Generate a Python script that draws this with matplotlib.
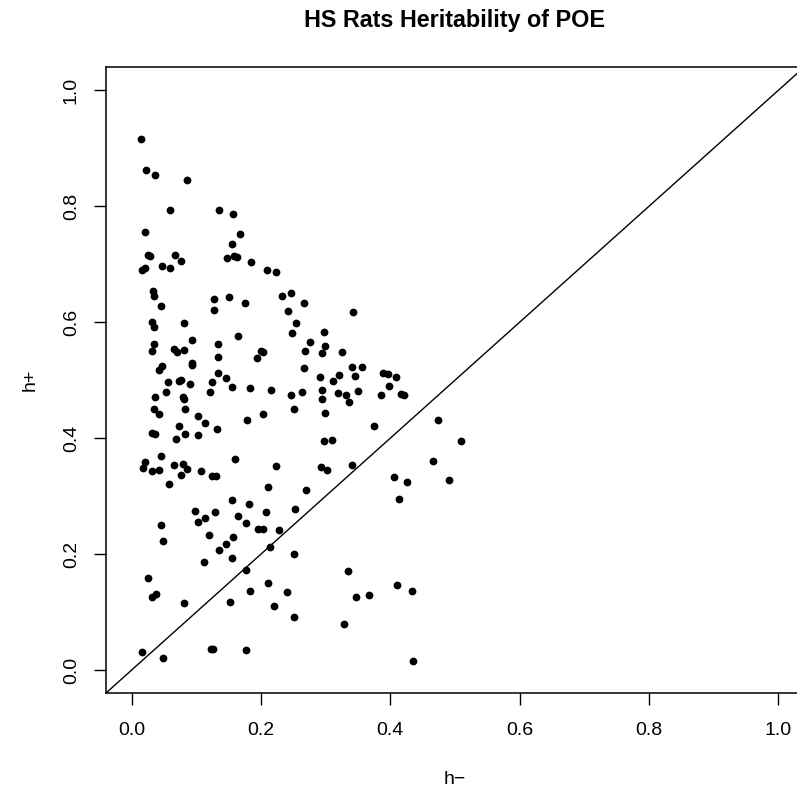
import matplotlib
matplotlib.use("Agg")
import matplotlib.pyplot as plt

plt.rcParams['font.family'] = ['Liberation Sans', 'DejaVu Sans']

# heritability estimates
h_minus = [0.015, 0.023, 0.036, 0.0855, 0.060, 0.1355, 0.157, 0.021, 0.168, 0.156,
           0.026, 0.029, 0.067, 0.077, 0.147, 0.158, 0.163, 0.184, 0.0155, 0.0206,
           0.047, 0.059, 0.209, 0.224, 0.033, 0.035, 0.045, 0.128, 0.150, 0.176,
           0.233, 0.246, 0.127, 0.242, 0.032, 0.034, 0.081, 0.255, 0.165, 0.2475,
           0.035, 0.031, 0.066, 0.071, 0.0814, 0.0933, 0.134, 0.133, 0.200, 0.2036,
           0.1938, 0.0928, 0.0933, 0.047, 0.042, 0.134, 0.146, 0.057, 0.073, 0.076,
           0.090, 0.125, 0.1547, 0.1825, 0.215, 0.0526, 0.122, 0.247, 0.037, 0.080,
           0.0804, 0.034, 0.042, 0.082, 0.102, 0.114, 0.179, 0.2026, 0.2515, 0.074,
           0.032, 0.036, 0.083, 0.069, 0.1026, 0.1324, 0.0453, 0.0206, 0.0175, 0.032,
           0.042, 0.065, 0.0794, 0.086, 0.076, 0.108, 0.125, 0.1304, 0.160, 0.2237,
           0.0572, 0.2104, 0.1547, 0.181, 0.0974, 0.129, 0.2073, 0.2526, 0.102, 0.113,
           0.1644, 0.1768, 0.1958, 0.203, 0.2278, 0.0449, 0.0489, 0.119, 0.157, 0.1454,
           0.135, 0.2144, 0.2515, 0.1118, 0.1556, 0.1773, 0.0247, 0.2104, 0.2397, 0.0319,
           0.0376, 0.183, 0.0809, 0.152, 0.220, 0.2515, 0.0155, 0.0489, 0.123, 0.126,
           0.1773, 0.267, 0.3428, 0.2975, 0.2763, 0.2685, 0.2985, 0.2944, 0.3248, 0.266,
           0.3412, 0.3567, 0.2917, 0.3211, 0.3114, 0.3459, 0.3887, 0.3969, 0.4093, 0.3985,
           0.2634, 0.2948, 0.3186, 0.3315, 0.3496, 0.3856, 0.4161, 0.4212, 0.2948, 0.3366,
           0.2985, 0.3748, 0.4738, 0.2975, 0.3094, 0.5098, 0.4656, 0.2923, 0.3026, 0.3412,
           0.4057, 0.4258, 0.4903, 0.414, 0.270, 0.335, 0.347, 0.3675, 0.4108, 0.4331,
           0.328, 0.436]
h_plus = [0.9155, 0.862, 0.854, 0.846, 0.793, 0.794, 0.787, 0.755, 0.752, 0.7345,
          0.7155, 0.714, 0.716, 0.706, 0.7115, 0.715, 0.7126, 0.7046, 0.690, 0.694,
          0.697, 0.694, 0.691, 0.686, 0.654, 0.645, 0.629, 0.641, 0.643, 0.634,
          0.646, 0.651, 0.622, 0.6195, 0.600, 0.592, 0.598, 0.5995, 0.576, 0.582,
          0.563, 0.551, 0.554, 0.5495, 0.553, 0.5695, 0.5626, 0.541, 0.5505, 0.5495,
          0.539, 0.529, 0.526, 0.5247, 0.518, 0.512, 0.5034, 0.497, 0.498, 0.500,
          0.493, 0.4966, 0.488, 0.4867, 0.483, 0.4805, 0.479, 0.474, 0.472, 0.4707,
          0.467, 0.450, 0.4414, 0.450, 0.438, 0.427, 0.431, 0.442, 0.4506, 0.4213,
          0.409, 0.4075, 0.4075, 0.3994, 0.4057, 0.4155, 0.370, 0.359, 0.348, 0.343,
          0.3454, 0.3546, 0.355, 0.3477, 0.336, 0.343, 0.335, 0.3356, 0.365, 0.3523,
          0.321, 0.3155, 0.2937, 0.2868, 0.2747, 0.2736, 0.2736, 0.2787, 0.2557, 0.2626,
          0.2667, 0.2534, 0.2443, 0.2426, 0.2414, 0.2505, 0.2224, 0.2333, 0.2298, 0.2172,
          0.2064, 0.2116, 0.200, 0.1867, 0.193, 0.173, 0.159, 0.1505, 0.134, 0.1264,
          0.1316, 0.1367, 0.1155, 0.1178, 0.111, 0.0908, 0.031, 0.0213, 0.0357, 0.0357,
          0.0345, 0.634, 0.6184, 0.584, 0.566, 0.5506, 0.5592, 0.5477, 0.5494, 0.5212,
          0.5224, 0.523, 0.5057, 0.5092, 0.4994, 0.5069, 0.5126, 0.5116, 0.5057, 0.4897,
          0.4793, 0.4833, 0.4788, 0.4741, 0.4822, 0.4753, 0.477, 0.4753, 0.4684, 0.462,
          0.4443, 0.4207, 0.431, 0.3954, 0.3977, 0.396, 0.3603, 0.3512, 0.346, 0.3546,
          0.3328, 0.3247, 0.3281, 0.296, 0.3109, 0.1712, 0.1259, 0.1288, 0.1466, 0.1367,
          0.0798, 0.0155]

ticks = [0.0, 0.2, 0.4, 0.6, 0.8, 1.0]
tick_labels = ['0.0', '0.2', '0.4', '0.6', '0.8', '1.0']

W, H = 797, 792
fig = plt.figure(figsize=(W / 100, H / 100), dpi=100)
ax = fig.add_axes([105.7 / W, 98.7 / H, 698.3 / W, 626 / H])

ax.plot(h_minus, h_plus, 'o', color='black', markersize=5.6, markeredgewidth=0)
ax.plot([-0.1, 1.2], [-0.1, 1.2], color='black', lw=1.0)

ax.set_xlim(-0.04, 1.04)
ax.set_ylim(-0.04, 1.04)
ax.set_xticks(ticks)
ax.set_xticklabels(tick_labels)
ax.set_yticks(ticks)
ax.set_yticklabels(tick_labels, rotation=90, va='center')

for s in ax.spines.values():
    s.set_linewidth(1.1)
ax.tick_params(length=8.6, width=1.0, labelsize=14)
ax.tick_params(axis='x', pad=12)
ax.tick_params(axis='y', pad=10)

fig.text(455 / W, 1 - 20 / H, 'HS Rats Heritability of POE', ha='center', va='center',
         fontsize=16.8, fontweight='bold')
fig.text(455 / W, 1 - 779 / H, 'h\u2212', ha='center', va='center', fontsize=14)
fig.text(30 / W, 1 - 380 / H, 'h+', ha='center', va='center', fontsize=14, rotation=90)

fig.savefig('out.png', dpi=100)
